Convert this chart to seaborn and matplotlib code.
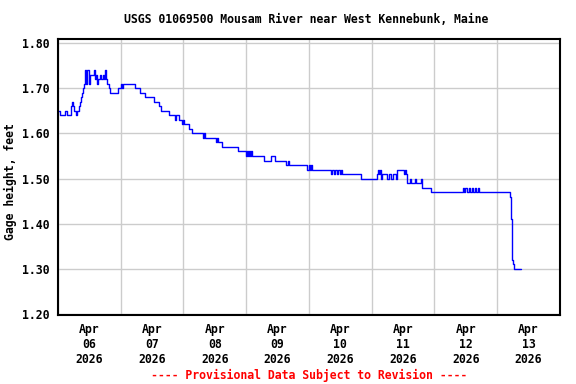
import matplotlib
matplotlib.use("Agg")
import matplotlib.pyplot as plt
import matplotlib.dates as mdates
import pandas as pd
import seaborn as sns

# gage readings: hours after 2026-04-06 00:00 where the level changes, and the new level (ft)
hours = [0.0, 0.8, 2.7, 3.4, 5.0, 5.4, 5.7, 6.1, 6.9, 7.3, 8.0, 8.4, 8.8, 9.2, 9.6,
         10.0, 10.3, 10.7, 11.1, 11.9, 12.2, 13.8, 14.2, 14.5, 14.9, 15.3, 16.1, 16.5,
         17.2, 17.6, 18.0, 18.4, 18.8, 19.5, 19.9, 23.0, 24.1, 24.5, 24.9, 29.5, 31.4,
         33.3, 36.7, 38.7, 39.4, 42.5, 44.8, 45.2, 46.3, 47.5, 47.8, 48.2, 50.1, 51.3,
         55.5, 55.9, 56.3, 60.5, 60.9, 61.2, 62.8, 68.9, 72.0, 72.3, 72.7, 73.1, 73.5,
         73.9, 74.3, 78.9, 81.5, 83.1, 87.3, 88.0, 88.4, 95.3, 96.1, 96.5, 96.9, 97.2,
         104.5, 104.9, 105.7, 106.0, 106.8, 107.2, 108.0, 108.3, 108.7, 116.0, 122.1,
         122.5, 122.9, 123.3, 123.6, 124.0, 125.9, 126.7, 127.5, 128.2, 129.4, 129.8,
         132.5, 132.8, 133.2, 133.6, 134.7, 135.1, 136.7, 137.0, 139.0, 139.3, 142.8,
         155.0, 155.4, 155.8, 156.6, 157.3, 157.7, 158.5, 158.9, 159.6, 160.0, 160.8,
         161.2, 173.0, 173.4, 173.8, 174.1, 174.5, 176.9]
gage_ft = [1.65, 1.64, 1.65, 1.64, 1.66, 1.67, 1.66, 1.65, 1.64, 1.65, 1.66, 1.67, 1.68, 1.69, 1.70,
           1.71, 1.74, 1.71, 1.74, 1.71, 1.73, 1.74, 1.72, 1.73, 1.71, 1.72, 1.73, 1.72,
           1.73, 1.72, 1.74, 1.72, 1.71, 1.70, 1.69, 1.70, 1.71, 1.70, 1.71, 1.70, 1.69,
           1.68, 1.67, 1.66, 1.65, 1.64, 1.63, 1.64, 1.63, 1.62, 1.63, 1.62, 1.61, 1.60,
           1.59, 1.60, 1.59, 1.58, 1.59, 1.58, 1.57, 1.56, 1.55, 1.56, 1.55, 1.56, 1.55,
           1.56, 1.55, 1.54, 1.55, 1.54, 1.53, 1.54, 1.53, 1.52, 1.53, 1.52, 1.53, 1.52,
           1.51, 1.52, 1.51, 1.52, 1.51, 1.52, 1.51, 1.52, 1.51, 1.50, 1.51,
           1.52, 1.51, 1.52, 1.50, 1.51, 1.50, 1.51, 1.50, 1.51, 1.50, 1.52,
           1.51, 1.52, 1.51, 1.49, 1.50, 1.49, 1.50, 1.49, 1.50, 1.48, 1.47,
           1.48, 1.47, 1.48, 1.47, 1.48, 1.47, 1.48, 1.47, 1.48, 1.47, 1.48,
           1.47, 1.46, 1.41, 1.32, 1.31, 1.30, 1.30]

title = "USGS 01069500 Mousam River near West Kennebunk, Maine"
ylabel = "Gage height, feet"
footer = "---- Provisional Data Subject to Revision ----"

start = pd.Timestamp("2026-04-06")
df = pd.DataFrame({"time": start + pd.to_timedelta(hours, unit="h"), "gage": gage_ft})

sns.set_style("white")
plt.rcParams["font.family"] = ["DejaVu Sans Mono"]
plt.rcParams["font.weight"] = "bold"
plt.rcParams["font.size"] = 8.3
plt.rcParams["text.color"] = "black"
plt.rcParams["xtick.color"] = "black"
plt.rcParams["ytick.color"] = "black"

fig = plt.figure(figsize=(5.76, 3.84), dpi=100)
ax = fig.add_axes([0.1007, 0.1797, 0.8715, 0.7187])

sns.lineplot(data=df, x="time", y="gage", ax=ax, color="#0000ff", linewidth=1.0,
             drawstyle="steps-post", estimator=None)

ax.set_xlim(start, start + pd.Timedelta(days=8))
ax.set_ylim(1.198, 1.809)
ax.set_yticks([1.2, 1.3, 1.4, 1.5, 1.6, 1.7, 1.8])
ax.yaxis.set_major_formatter(matplotlib.ticker.FormatStrFormatter("%.2f"))

ax.xaxis.set_major_locator(mdates.HourLocator(byhour=12))
ax.xaxis.set_major_formatter(mdates.DateFormatter("%b\n%d\n%Y"))
ax.xaxis.set_minor_locator(mdates.DayLocator())

ax.grid(False)
ax.grid(True, axis="y", which="major", color="#cccccc", linewidth=1.0)
ax.grid(True, axis="x", which="minor", color="#cccccc", linewidth=1.0)
ax.tick_params(axis="both", which="both", length=0, labelcolor="black")
ax.tick_params(axis="x", pad=6)
ax.tick_params(axis="y", pad=6)
for lbl in ax.get_xticklabels() + ax.get_yticklabels():
    lbl.set_fontweight("bold")

for s in ax.spines.values():
    s.set_color("black")
    s.set_linewidth(1.5)

ax.set_xlabel("")
ax.set_ylabel("")
fig.text(0.0174, 0.526, ylabel, rotation=90, ha="center", va="center",
         fontweight="bold", color="black")
fig.text(0.532, 0.948, title, ha="center", va="center", fontweight="bold", color="black")
fig.text(0.536, 0.023, footer, ha="center", va="center", color="red", fontweight="bold")

fig.savefig("out.png", dpi=100)
plt.close(fig)
